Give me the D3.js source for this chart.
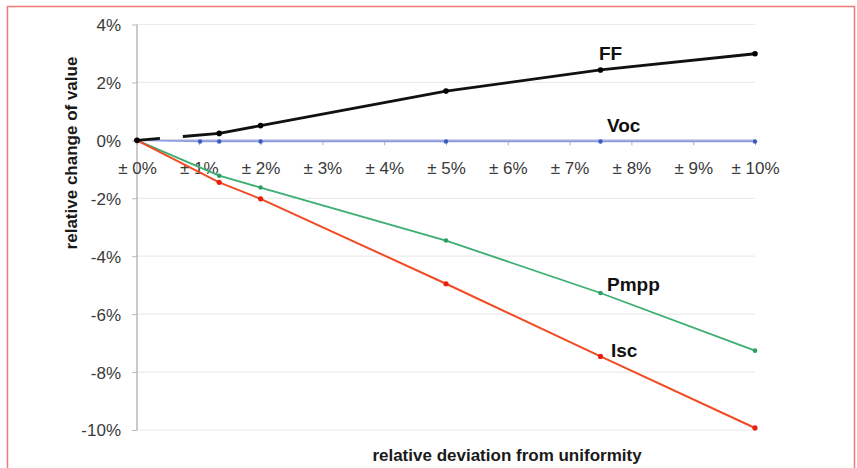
<!DOCTYPE html>
<html>
<head>
<meta charset="utf-8">
<script src="https://cdn.jsdelivr.net/npm/d3@7"></script>
<style>
  body { margin: 0; background: #fff; }
  text { font-family: "Liberation Sans", Arial, sans-serif; }
</style>
</head>
<body>
<div id="chart"></div>
<script>
// x positions (relative deviation, %)
const xVals = [0, 1.33, 2, 5, 7.5, 10];
const vocX = [0, 1.02, 1.33, 2, 5, 7.5, 10];

// series values (relative change, %)
const ffVals = [0, 0.24, 0.51, 1.70, 2.43, 2.99];
const vocVals = [0, -0.04, -0.04, -0.04, -0.04, -0.04, -0.04];
const pmppVals = [0, -1.22, -1.63, -3.46, -5.27, -7.26];
const iscVals = [0, -1.45, -2.02, -4.95, -7.46, -9.93];

const xTicks = [0, 1, 2, 3, 4, 5, 6, 7, 8, 9, 10];
const yTicks = [4, 2, 0, -2, -4, -6, -8, -10];

const W = 857, H = 468;
const x = d3.scaleLinear().domain([0, 10]).range([137, 755]);
const y = d3.scaleLinear().domain([-10, 4]).range([430, 24.5]);

const svg = d3.select("#chart").append("svg")
  .attr("width", W)
  .attr("height", H);

// frame
svg.append("path")
  .attr("d", "M7.5,470 V6.5 H854.5 V470")
  .attr("fill", "none")
  .attr("stroke", "#f07a7a")
  .attr("stroke-width", 1.5);

// gridlines
svg.append("g")
  .selectAll("line")
  .data(yTicks.filter(d => d !== 0))
  .enter().append("line")
  .attr("x1", x(0)).attr("x2", x(10))
  .attr("y1", d => y(d)).attr("y2", d => y(d))
  .attr("stroke", "#ebebeb")
  .attr("stroke-width", 1.2);

// y axis
const yAxis = d3.axisLeft(y)
  .tickValues(yTicks)
  .tickSize(5)
  .tickPadding(11)
  .tickFormat(d => d + "%");

const gy = svg.append("g")
  .attr("transform", "translate(" + x(0) + ",0)")
  .call(yAxis);
gy.select(".domain").attr("stroke", "#b8b8b8").attr("stroke-width", 1.5)
  .attr("d", "M0," + y(4) + "V" + y(-10));
gy.selectAll(".tick line").attr("stroke", "#b8b8b8");
gy.selectAll("text").attr("font-size", 17).attr("fill", "#3a3a3a").attr("dy", "0.35em");

// x axis at zero
const xAxis = d3.axisBottom(x)
  .tickValues(xTicks)
  .tickSize(5)
  .tickPadding(17)
  .tickFormat(d => "\u00b1 " + d + "%");

const gx = svg.append("g")
  .attr("transform", "translate(0," + y(0) + ")")
  .call(xAxis);
gx.select(".domain").attr("stroke", "#a9b2d6").attr("stroke-width", 1.5)
  .attr("d", "M" + x(0) + ",0H" + x(10));
gx.selectAll(".tick line").attr("stroke", "#b0b0b0");
gx.selectAll("text").attr("font-size", 17).attr("fill", "#3a3a3a");

// axis titles
svg.append("text")
  .attr("transform", "translate(77,153) rotate(-90)")
  .attr("text-anchor", "middle")
  .attr("font-size", 17)
  .attr("font-weight", "bold")
  .attr("fill", "#1a1a1a")
  .text("relative change of value");

svg.append("text")
  .attr("x", 507)
  .attr("y", 461)
  .attr("text-anchor", "middle")
  .attr("font-size", 17)
  .attr("font-weight", "bold")
  .attr("fill", "#1a1a1a")
  .text("relative deviation from uniformity");

const line = d3.line()
  .x(d => x(d[0]))
  .y(d => y(d[1]));

const series = [
  { name: "Voc", xs: vocX, vals: vocVals, color: "#8c9be0", dot: "#3a5cc0", width: 1.5, r: 2.2 },
  { name: "Pmpp", xs: xVals, vals: pmppVals, color: "#3bae72", dot: "#2f9e62", width: 1.8, r: 2.3 },
  { name: "Isc", xs: xVals, vals: iscVals, color: "#f24a22", dot: "#e8200e", width: 2, r: 2.6 },
  { name: "FF", xs: xVals, vals: ffVals, color: "#111", dot: "#000", width: 2.8, r: 2.8 }
];

series.forEach(s => {
  const pts = s.xs.map((v, i) => [v, s.vals[i]]);
  const p = svg.append("path")
    .datum(pts)
    .attr("d", line)
    .attr("fill", "none")
    .attr("stroke", s.color)
    .attr("stroke-width", s.width)
    .attr("stroke-linejoin", "round");
  if (s.name === "FF") p.attr("stroke-dasharray", "23,23,3000");
  svg.append("g")
    .selectAll("circle")
    .data(pts)
    .enter().append("circle")
    .attr("cx", d => x(d[0]))
    .attr("cy", d => y(d[1]))
    .attr("r", s.r)
    .attr("fill", s.dot);
});

// series labels
const labels = [
  { text: "FF", x: 599, y: 60 },
  { text: "Voc", x: 607, y: 132 },
  { text: "Pmpp", x: 607, y: 291 },
  { text: "Isc", x: 611, y: 357 }
];
svg.append("g")
  .selectAll("text")
  .data(labels)
  .enter().append("text")
  .attr("x", d => d.x)
  .attr("y", d => d.y)
  .attr("font-size", 19)
  .attr("font-weight", "bold")
  .attr("fill", "#111")
  .text(d => d.text);
</script>
</body>
</html>
